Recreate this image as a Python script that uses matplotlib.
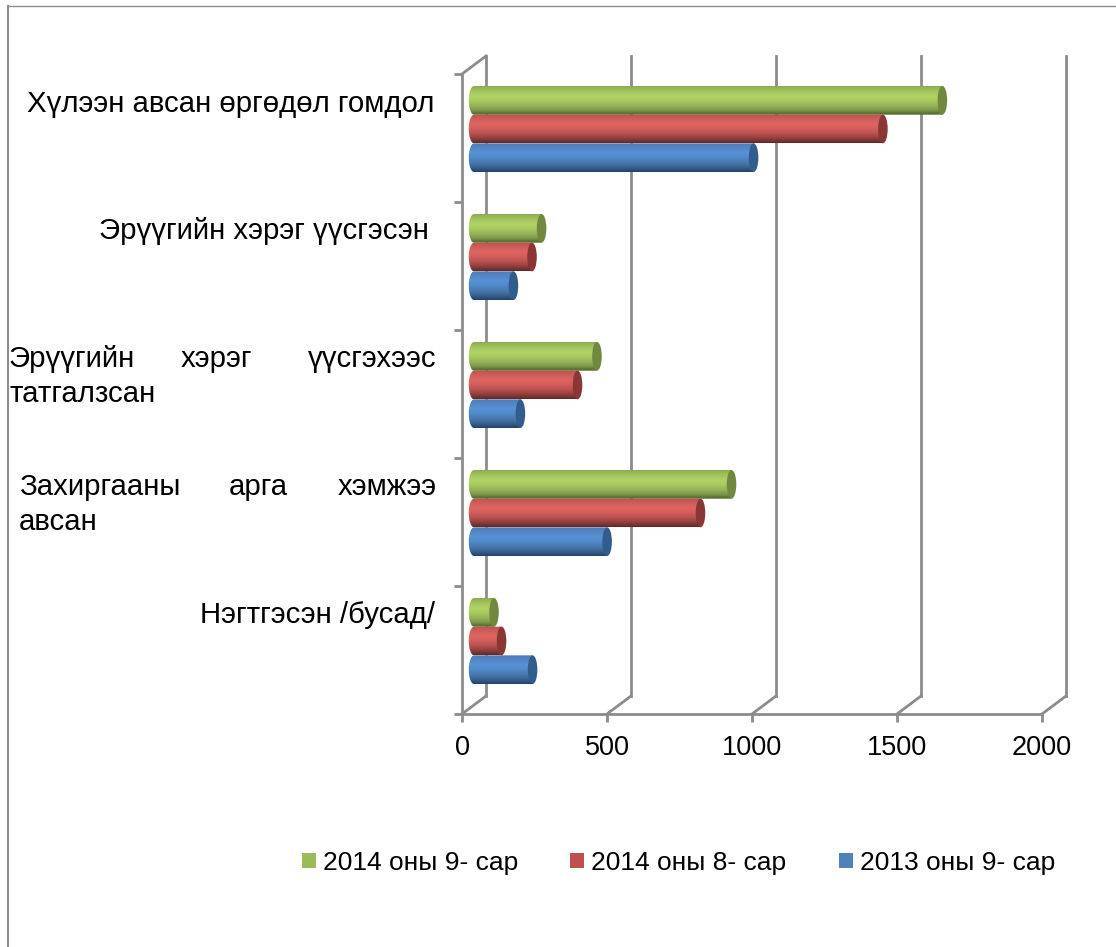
import numpy as np
import matplotlib
matplotlib.use("Agg")
import matplotlib.pyplot as plt
from matplotlib.patches import Ellipse, Patch, PathPatch
from matplotlib.path import Path
from matplotlib.lines import Line2D
from matplotlib.transforms import Affine2D
from matplotlib.colors import LinearSegmentedColormap

plt.rcParams['font.family'] = ['Liberation Sans', 'DejaVu Sans']

series_names = ['2014 оны 9- сар', '2014 оны 8- сар', '2013 оны 9- сар']
green_values = [1615, 233, 424, 888, 69]
red_values = [1410, 200, 357, 781, 95]
blue_values = [964, 136, 160, 459, 202]
x_ticks = [0, 500, 1000, 1500, 2000]

W, H = 1116, 947
GRID = '#8c8c8c'
LW = 2.0
FS = 19.5
CAT_FS = 21.2
fig = plt.figure(figsize=(W / 100, H / 100), dpi=100, facecolor='white')
ax = fig.add_axes([462 / W, 1 - 714 / H, 580 / W, 640 / H])
ax.set_xlim(0, 2000)
ax.set_ylim(0, 5)
ax.set_facecolor('none')

# axes
for s in ['top', 'right']:
    ax.spines[s].set_visible(False)
for s in ['left', 'bottom']:
    ax.spines[s].set_color(GRID)
    ax.spines[s].set_linewidth(LW)
ax.set_xticks(x_ticks)
ax.set_yticks(range(6))
ax.set_yticklabels([])
ax.tick_params(axis='both', color=GRID, width=LW, length=6)
ax.tick_params(axis='x', labelsize=FS, pad=9, labelcolor='black')

# 3D depth offsets in pixels
back = ax.transData + Affine2D().translate(24, 18)
mid = ax.transData + Affine2D().translate(12, 9)

# back wall and floor
for t in x_ticks:
    ax.plot([t, t], [0, 5], color=GRID, lw=LW, transform=back, clip_on=False, zorder=1)
    x0, y0 = ax.transData.transform((t, 0))
    fig.add_artist(Line2D([x0 / W, (x0 + 24) / W], [y0 / H, (y0 + 18) / H], color=GRID, lw=LW))
x0, y0 = ax.transData.transform((0, 5))
fig.add_artist(Line2D([x0 / W, (x0 + 24) / W], [y0 / H, (y0 + 18) / H], color=GRID, lw=LW))

palettes = [
    ['#8fab52', '#a3c35e', '#afd166', '#aacb63', '#98b558', '#7d974a', '#4f6429'],
    ['#b75451', '#cf5d5a', '#dc6360', '#d35e5b', '#bb5250', '#94403e', '#622826'],
    ['#4c7cb3', '#5288c9', '#5891d4', '#5289c9', '#4a79b2', '#3a6391', '#234468'],
]
caps = ['#71893f', '#8a3634', '#315d8c']
solid = ['#9bbb59', '#c0504d', '#4f81bd']
all_values = [green_values, red_values, blue_values]
centers = [4.5, 3.5, 2.5, 1.5, 0.5]
h = 0.224
offs = [h, 0, -h]
cw = 33  # end cap width in data units
lw_cap = 36  # rounded start width in data units

for si, vals in enumerate(all_values):
    cmap = LinearSegmentedColormap.from_list('c', palettes[si])
    ys = [c + offs[si] for c in centers]
    bars = ax.barh(ys, vals, height=h, color=solid[si], transform=mid, zorder=3, clip_on=False)
    for b in bars:
        v, y, ht = b.get_width(), b.get_y(), b.get_height()
        b.set_visible(False)
        th = np.linspace(np.pi / 2, 3 * np.pi / 2, 30)
        xs = lw_cap / 2 * np.cos(th)
        yy = y + ht / 2 + ht / 2 * np.sin(th)
        verts = [(v, y + ht)] + list(zip(xs, yy)) + [(v, y), (v, y + ht)]
        clip = PathPatch(Path(verts, closed=False), transform=mid, fc='none', ec='none')
        ax.add_patch(clip)
        im = ax.imshow(np.linspace(0, 1, 60)[:, None], cmap=cmap, aspect='auto', origin='upper',
                       extent=(-lw_cap, v + 1, y, y + ht), transform=mid, zorder=3,
                       interpolation='bilinear')
        im.set_clip_path(clip)
        ax.add_patch(Ellipse((v, y + ht / 2), cw, ht, fc=caps[si], ec='none', transform=mid,
                             zorder=3.5, clip_on=False))
ax.set_xlim(0, 2000)
ax.set_ylim(0, 5)


def word(s, x, base):
    fig.text(x / W, 1 - base / H, s, fontsize=CAT_FS, color='black', ha='left', va='baseline')


word('Хүлээн авсан өргөдөл гомдол', 27, 112)
word('Эрүүгийн хэрэг үүсгэсэн', 99, 239)
word('Эрүүгийн', 9, 367)
word('хэрэг', 181, 367)
word('үүсгэхээс', 308, 367)
word('татгалзсан', 9, 402)
word('Захиргааны', 19, 495)
word('арга', 229, 495)
word('хэмжээ', 338, 495)
word('авсан', 19, 530)
word('Нэгтгэсэн /бусад/', 200, 623)

# legend
handles = [Patch(fc=c, ec='none') for c in ['#9bbb59', '#c0504d', '#4f81bd']]
fig.legend(handles, series_names, loc='lower left', bbox_to_anchor=(302 / W, 1 - 875 / H), ncols=3,
           frameon=False, fontsize=19, handlelength=0.53, handleheight=0.53, handletextpad=0.27,
           columnspacing=1.97, borderpad=0, borderaxespad=0)

# outer frame
fig.add_artist(Line2D([8 / W, 8 / W], [0, 1 - 6 / H], color=GRID, lw=1.5))
fig.add_artist(Line2D([8 / W, 1], [1 - 6.5 / H, 1 - 6.5 / H], color=GRID, lw=1))

fig.savefig('out.png', dpi=100)
